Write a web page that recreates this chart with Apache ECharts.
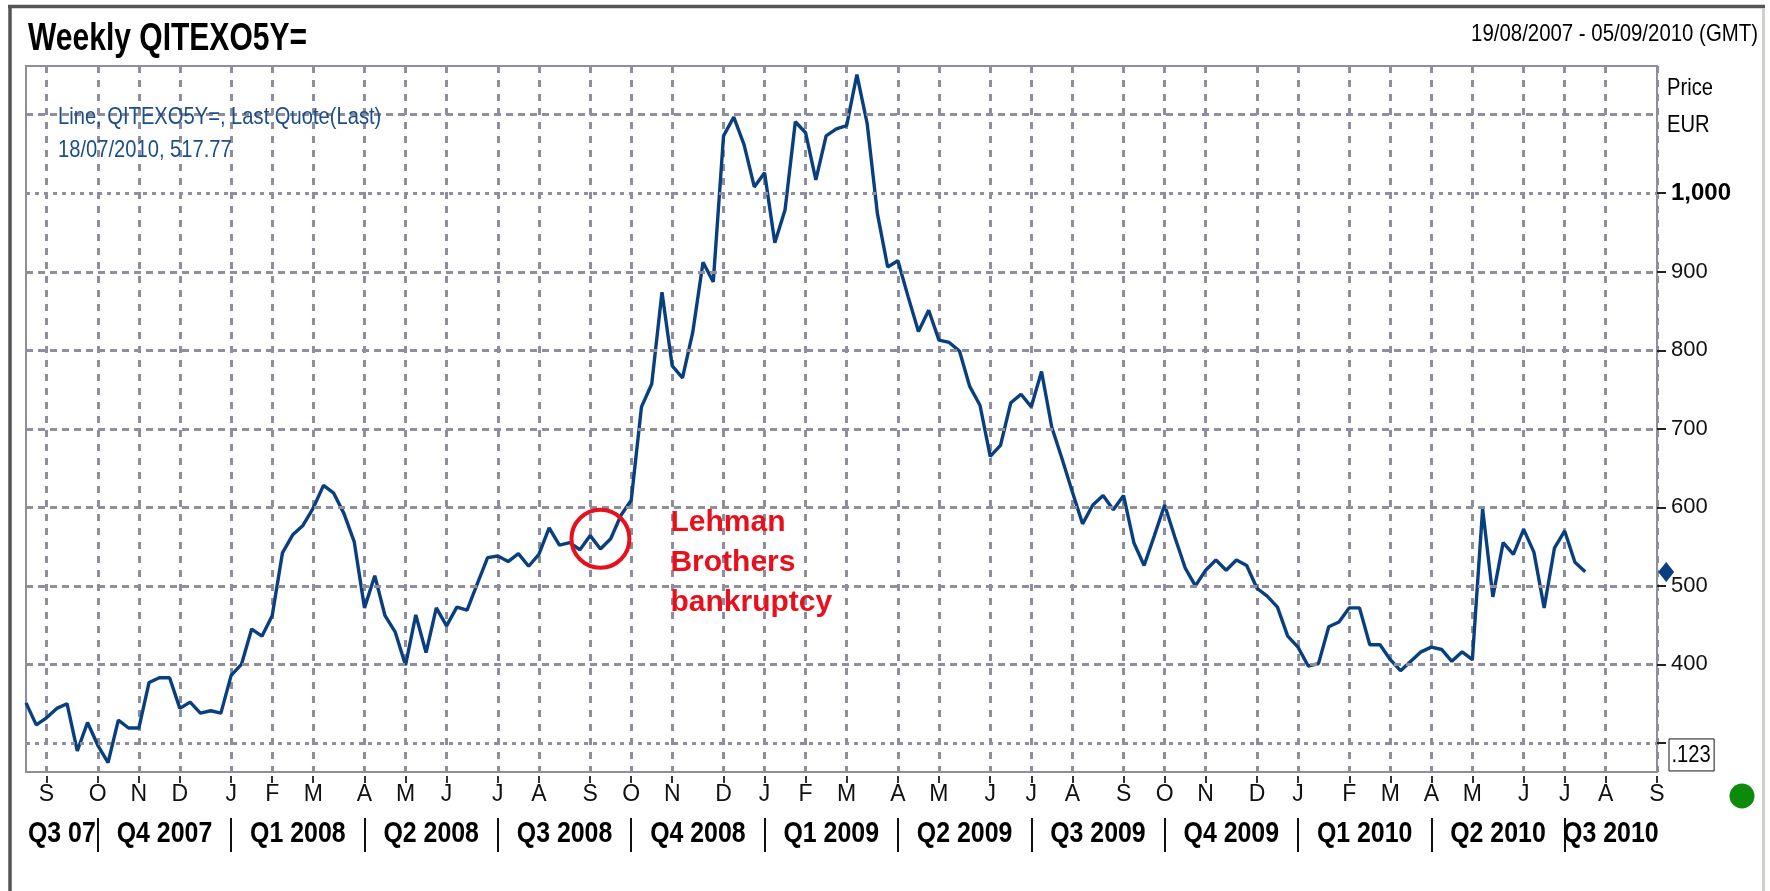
<!DOCTYPE html>
<html>
<head>
<meta charset="utf-8">
<title>Weekly QITEXO5Y=</title>
<script src="https://cdn.jsdelivr.net/npm/echarts@6/dist/echarts.min.js"></script>
<style>
  html, body { margin: 0; padding: 0; background: #fff; }
  #chart { width: 1770px; height: 891px; }
</style>
</head>
<body>
<div id="chart"></div>
<script>
// weekly quotes, first point 19/08/2007, last point 18/07/2010
const firstWeek = Date.UTC(2007, 7, 19)
const weekCount = 160 // axis runs on to 05/09/2010

const priceValues = [
  351, 323, 332, 344, 350, 290, 326, 297, 275, 329,
  319, 319, 377, 383, 383, 344, 352, 338, 341, 338,
  386, 400, 445, 436, 462, 542, 565, 577, 599, 628,
  618, 592, 556, 472, 513, 462, 441, 399, 463, 415,
  472, 449, 473, 469, 503, 536, 538, 531, 541, 525,
  540, 574, 552, 555, 546, 564, 547, 560, 590, 609,
  728, 757, 874, 780, 765, 823, 912, 887, 1073, 1097,
  1062, 1008, 1026, 937, 979, 1091, 1077, 1017, 1073, 1082,
  1086, 1151, 1089, 974, 906, 914, 868, 824, 851, 813,
  810, 799, 754, 730, 665, 679, 733, 744, 728, 773,
  702, 662, 620, 579, 603, 615, 597, 615, 555, 526,
  564, 603, 562, 523, 500, 520, 533, 520, 533, 526,
  497, 487, 473, 436, 422, 398, 401, 448, 454, 472,
  472, 425, 425, 406, 392, 404, 416, 422, 419, 404,
  416, 406, 598, 486, 555, 540, 572, 543, 472, 548,
  570, 530, 518
]
const lastQuote = 517.77
const lehmanPoint = [56, 560]

const monthLetters = ['J', 'F', 'M', 'A', 'M', 'J', 'J', 'A', 'S', 'O', 'N', 'D']
const quarterLabels = ['Q3 07', 'Q4 2007', 'Q1 2008', 'Q2 2008', 'Q3 2008', 'Q4 2008', 'Q1 2009',
  'Q2 2009', 'Q3 2009', 'Q4 2009', 'Q1 2010', 'Q2 2010', 'Q3 2010']
const yTickValues = [300, 400, 500, 600, 700, 800, 900, 1000]
const gridValues = [300, 400, 500, 600, 700, 800, 900, 1000, 1100]
const yMin = 263
const yMax = 1162

const SANS = '"Liberation Sans", Arial, sans-serif'
const SQUEEZE = 0.84 // the original fonts are narrow
const GRID = '#8f8e9d'
const BLUE = '#0a3f7f'
const RED = '#e8101c'

const categories = []
for (let i = 0; i < weekCount; i++) {
  categories.push(new Date(firstWeek + i * 7 * 86400000).toISOString().slice(0, 10))
}
const monthStart = i => +categories[i].slice(8, 10) <= 7
const quarterStart = i => monthStart(i) && (+categories[i].slice(5, 7) - 1) % 3 === 0

function label(text, x, y, size, opts) {
  opts = opts || {}
  return {
    type: 'text', x: x, y: y, z: 10, scaleX: opts.scale || SQUEEZE,
    style: {
      text: text,
      font: (opts.bold ? 'bold ' : '') + size + 'px ' + SANS,
      fill: opts.color || '#000',
      align: opts.align || 'left', textAlign: opts.align || 'left',
      verticalAlign: opts.valign || 'middle', textVerticalAlign: opts.valign || 'middle',
      borderColor: opts.border, borderWidth: opts.border ? 1 : 0, padding: opts.padding
    }
  }
}

const chart = echarts.init(document.getElementById('chart'))

const option = {
  animation: false,
  backgroundColor: '#fff',
  textStyle: { fontFamily: SANS },
  grid: {
    left: 26, right: 113, top: 66, bottom: 119,
    show: true, borderColor: GRID, borderWidth: 2, backgroundColor: 'transparent'
  },
  xAxis: [{
    type: 'category',
    data: categories,
    boundaryGap: false,
    axisLine: { show: false },
    axisTick: {
      show: true, interval: i => monthStart(i), length: 11,
      lineStyle: { color: '#333', width: 2, type: [7, 4], dashOffset: 7 }
    },
    axisLabel: {
      interval: i => monthStart(i),
      formatter: v => monthLetters[+v.slice(5, 7) - 1],
      margin: 11, fontSize: 23, color: '#111'
    },
    splitLine: {
      show: true, interval: i => monthStart(i),
      lineStyle: { color: GRID, width: 3, type: [7, 7] }
    }
  }, {
    // quarter separators
    type: 'category',
    data: categories,
    boundaryGap: false,
    position: 'bottom',
    offset: 46,
    axisLine: { show: false },
    axisTick: {
      show: true, interval: i => quarterStart(i), length: 34,
      lineStyle: { color: '#111', width: 2 }
    },
    axisLabel: { show: false },
    splitLine: { show: false }
  }],
  yAxis: [{
    type: 'value',
    min: yMin,
    max: yMax,
    position: 'right',
    axisLine: { show: false },
    splitLine: { show: false },
    axisTick: {
      show: true, customValues: yTickValues, length: 9,
      lineStyle: { color: '#222', width: 2 }
    },
    axisLabel: {
      customValues: yTickValues,
      margin: 14, fontSize: 22, color: '#111',
      formatter: v => v === 1000 ? '{b|1,000}' : (v === 300 ? '' : String(v)),
      rich: { b: { fontSize: 24, fontWeight: 'bold', color: '#000' } }
    }
  }],
  series: [{
    // horizontal grid: 1,000 and 300 are dotted, the others dashed
    type: 'line',
    data: [],
    z: 1,
    silent: true,
    markLine: {
      silent: true,
      symbol: ['none', 'none'],
      label: { show: false },
      data: gridValues.map(v => ({
        yAxis: v,
        lineStyle: {
          color: GRID, width: 3,
          type: (v === 1000 || v === 300) ? [4, 5] : [7, 5]
        }
      }))
    }
  }, {
    name: 'QITEXO5Y=',
    type: 'line',
    data: priceValues,
    symbol: 'none',
    z: 3,
    lineStyle: { color: BLUE, width: 3.4 },
    markPoint: {
      silent: true,
      data: [{
        coord: lehmanPoint,
        symbol: 'circle',
        symbolSize: 58,
        itemStyle: { color: 'rgba(0,0,0,0)', borderColor: RED, borderWidth: 4 },
        label: {
          show: true, position: 'right', distance: 39, offset: [0, 24],
          formatter: 'Lehman\nBrothers\nbankruptcy',
          color: RED, fontSize: 30, fontWeight: 'bold', lineHeight: 40, align: 'left'
        }
      }, {
        coord: [priceValues.length - 1, lastQuote],
        symbol: 'diamond',
        symbolSize: [16, 20],
        symbolOffset: [81, 0],
        itemStyle: { color: BLUE },
        label: { show: false }
      }]
    }
  }],
  graphic: [
    { type: 'line', shape: { x1: 8, y1: 6.5, x2: 1765, y2: 6.5 }, style: { stroke: '#555', lineWidth: 3.5 } },
    { type: 'line', shape: { x1: 10, y1: 5, x2: 10, y2: 891 }, style: { stroke: '#555', lineWidth: 3.5 } },
    { type: 'line', shape: { x1: 1763.5, y1: 8, x2: 1763.5, y2: 891 }, style: { stroke: '#d0cfc8', lineWidth: 3 } },
    label('Weekly QITEXO5Y=', 28, 39, 39, { bold: true, scale: 0.77 }),
    label('19/08/2007 - 05/09/2010 (GMT)', 1758, 34, 24, { align: 'right', scale: 0.85 }),
    label('Price', 1667, 88, 24),
    label('EUR', 1667, 125, 24),
    label('Line, QITEXO5Y=, Last Quote(Last)', 58, 117, 24, { color: '#1d4e89' }),
    label('18/07/2010, ' + lastQuote, 58, 150, 24, { color: '#1d4e89' }),
    { type: 'circle', shape: { cx: 1742, cy: 796, r: 12.5 }, style: { fill: '#0b8a0b' } }
  ]
}

chart.setOption(option)

// quarter names centred between the separators, value box under the last tick
const bounds = [0]
categories.forEach((c, i) => { if (quarterStart(i)) bounds.push(i) })
bounds.push(weekCount - 1)
const xAt = i => chart.convertToPixel({ xAxisIndex: 0 }, i)
const quarterTexts = quarterLabels.map((q, k) =>
  label(q, (xAt(bounds[k]) + xAt(bounds[k + 1])) / 2, 834, 30, { bold: true, align: 'center', scale: 0.83 }))
const y300 = chart.convertToPixel({ yAxisIndex: 0 }, 300)
const box = label('.123', 1669, y300 - 4, 24, { valign: 'top', border: '#000', padding: [4, 4, 4, 3] })

chart.setOption({ graphic: option.graphic.concat(quarterTexts, [box]) })
</script>
</body>
</html>
